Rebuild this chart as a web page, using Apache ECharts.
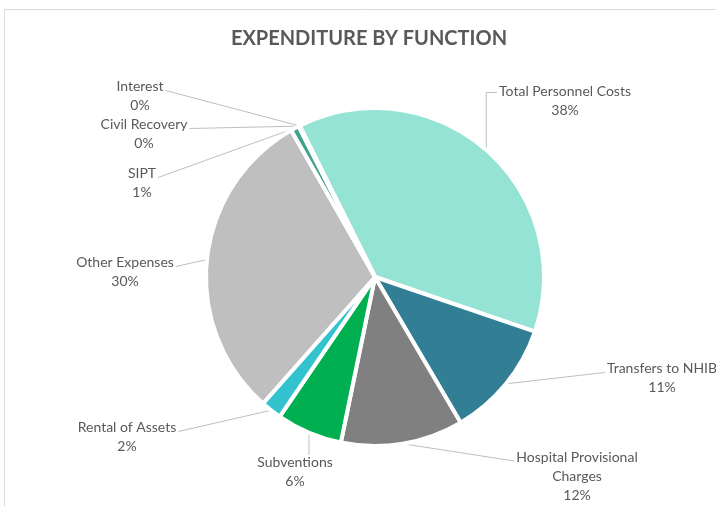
<!DOCTYPE html>
<html><head><meta charset="utf-8">
<script src="https://cdn.jsdelivr.net/npm/echarts@6/dist/echarts.min.js"></script>
<style>html,body{margin:0;padding:0;background:#fff}#c{width:716px;height:506px}</style>
</head><body><div id="c"></div>
<script>
// ---- data ----
const categories = ['Total Personnel Costs', 'Transfers to NHIB', 'Hospital Provisional Charges', 'Subventions', 'Rental of Assets', 'Other Expenses', 'SIPT', 'Civil Recovery', 'Interest'];
const shares = [37.6, 11.3, 11.7, 6.3, 2.0, 30.2, 0.8, 0.05, 0.05];
const titleText = 'EXPENDITURE BY FUNCTION';

// ---- styling / layout (not data) ----
const sliceColors = ['#95e3d4', '#327f95', '#808080', '#00b050', '#33c3cf', '#bfbfbf', '#40a28c', '#2e9c86', '#5fb8a8'];
// label block centres and the side the leader line attaches to
const labelSpots = [
  {x: 565, y: 101, side: 'elbow'},
  {x: 662, y: 378, side: 'left'},
  {x: 577, y: 476, side: 'left'},
  {x: 295, y: 472, side: 'top'},
  {x: 127, y: 437, side: 'right'},
  {x: 125, y: 272, side: 'right'},
  {x: 142, y: 183, side: 'right'},
  {x: 144, y: 134, side: 'right'},
  {x: 140, y: 96, side: 'right'}
];
const LH = 19;

const chart = echarts.init(document.getElementById('c'), null, {renderer: 'canvas'});
const total = shares.reduce((a, b) => a + b, 0);

chart.setOption({
  animation: false,
  backgroundColor: '#ffffff',
  title: {
    text: titleText,
    left: 364,
    top: 24,
    textAlign: 'center',
    textStyle: {fontFamily: 'Lato', fontSize: 20, fontWeight: 'bold', color: '#595959'}
  },
  graphic: [{
    type: 'rect', silent: true,
    shape: {x: 4.5, y: 9.5, width: 760, height: 600},
    style: {fill: 'none', stroke: '#d9d9d9', lineWidth: 1}
  }],
  series: [{
    type: 'pie',
    center: [375, 277],
    radius: 169,
    startAngle: 116.5,
    clockwise: true,
    avoidLabelOverlap: false,
    data: categories.map((n, i) => ({name: n, value: shares[i], itemStyle: {color: sliceColors[i]}})),
    itemStyle: {borderColor: '#ffffff', borderWidth: 4},
    label: {
      show: true,
      position: 'outside',
      fontFamily: 'Lato',
      fontSize: 14,
      color: '#595959',
      lineHeight: LH,
      align: 'center',
      formatter: function (p) {
        const nm = p.name.replace('Provisional ', 'Provisional\n');
        return nm + '\n' + Math.round(p.value / total * 100) + '%';
      }
    },
    labelLine: {show: true, length: 10, length2: 10, lineStyle: {color: '#bfbfbf', width: 1}},
    emphasis: {disabled: true},
    labelLayout: function (p) {
      const s = labelSpots[p.dataIndex];
      const w = p.labelRect.width, h = p.labelRect.height;
      const top = s.y - h / 2;
      const firstY = top + LH / 2 + 4;
      const p0 = p.labelLinePoints ? p.labelLinePoints[0] : [s.x, s.y];
      let pts;
      if (s.side === 'right') {
        const e = [s.x + w / 2 + 2, firstY];
        pts = [p0, e, e];
      } else if (s.side === 'left') {
        const e = [s.x - w / 2 - 2, firstY];
        pts = [p0, e, e];
      } else if (s.side === 'top') {
        pts = [p0, [p0[0], top + 2], [p0[0], top + 2]];
      } else {
        const y1 = top + LH / 2 + 1;
        pts = [p0, [p0[0], y1], [s.x - w / 2 - 2, y1]];
      }
      return {x: s.x, y: s.y, align: 'center', verticalAlign: 'middle', labelLinePoints: pts};
    }
  }]
});
</script>
</body></html>
